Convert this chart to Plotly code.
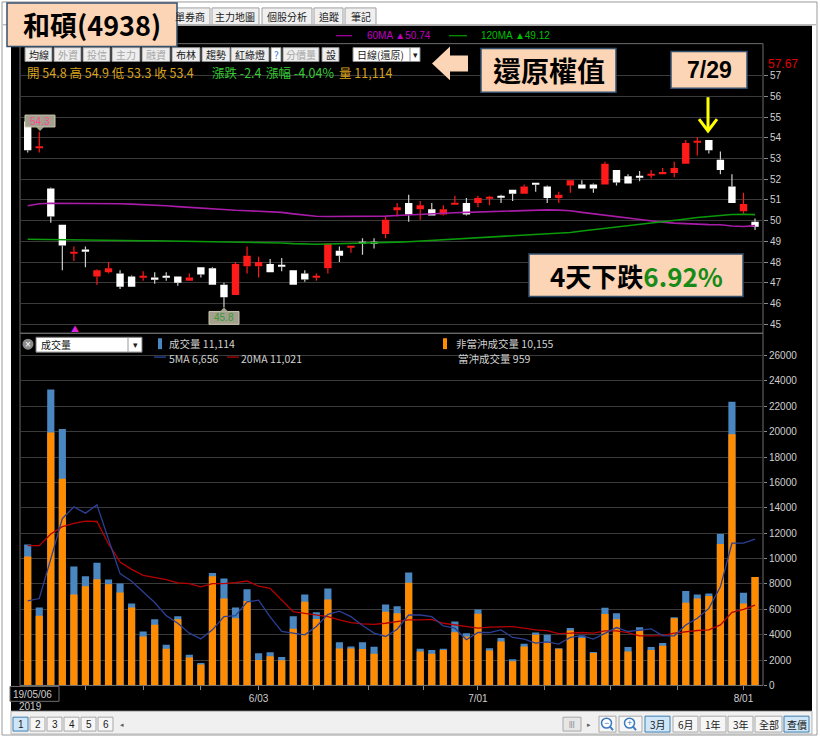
import plotly.graph_objects as go

W, H = 820, 744
CJK = "Noto Sans CJK TC"
NUM = "Liberation Sans"

# ---------------- data ----------------
dates = ["2019/05/06", "5/07", "5/08", "5/09", "5/10", "5/13", "5/14", "5/15", "5/16", "5/17",
         "5/20", "5/21", "5/22", "5/23", "5/24", "5/27", "5/28", "5/29", "5/30", "5/31",
         "6/03", "6/04", "6/05", "6/06", "6/10", "6/11", "6/12", "6/13", "6/14", "6/17",
         "6/18", "6/19", "6/20", "6/21", "6/24", "6/25", "6/26", "6/27", "6/28",
         "7/01", "7/02", "7/03", "7/04", "7/05", "7/08", "7/09", "7/10", "7/11", "7/12",
         "7/15", "7/16", "7/17", "7/18", "7/19", "7/22", "7/23", "7/24", "7/25", "7/26",
         "7/29", "7/30", "7/31", "8/01", "8/02"]

open_ = [54.8, 53.5, 51.55, 49.8, 48.4, 48.6, 47.3, 47.5, 47.45, 47.3,
         47.25, 47.25, 47.3, 47.3, 47.1, 47.75, 47.7, 46.9, 46.4, 47.8,
         47.8, 47.9, 47.85, 47.6, 47.45, 47.25, 47.7, 48.55, 48.7, 48.95,
         48.95, 49.35, 50.5, 50.85, 50.55, 50.55, 50.3, 50.83, 50.85,
         50.85, 51.1, 51.2, 51.5, 51.3, 51.8, 51.65, 51.1, 51.7, 51.75,
         51.75, 51.75, 52.45, 52.15, 52.15, 52.2, 52.25, 52.3, 52.75, 53.8,
         53.9, 52.95, 51.65, 50.45, 49.95]
high = [54.9, 54.3, 51.6, 49.8, 48.75, 48.75, 47.65, 48.0, 47.6, 47.35,
        47.55, 47.5, 47.5, 47.3, 47.45, 47.75, 47.75, 47.0, 48.0, 48.75,
        48.25, 48.15, 48.2, 47.6, 47.6, 47.45, 48.9, 48.75, 48.75, 49.15,
        49.15, 50.2, 50.85, 51.25, 50.95, 50.85, 50.75, 51.2, 51.1,
        51.2, 51.2, 51.25, 51.5, 51.75, 51.8, 51.7, 51.4, 51.95, 51.95,
        51.8, 52.85, 52.45, 52.25, 52.4, 52.45, 52.55, 52.85, 53.9, 54.05,
        53.9, 53.35, 52.25, 51.35, 50.1]
low = [53.3, 53.3, 49.9, 47.6, 48.05, 47.75, 46.9, 47.45, 46.7, 46.8,
       47.1, 46.95, 47.1, 46.85, 47.1, 47.25, 46.9, 45.8, 46.4, 47.45,
       47.25, 47.5, 47.55, 46.9, 47.05, 47.1, 47.45, 48.0, 48.45, 48.35,
       48.65, 49.15, 50.2, 49.95, 50.05, 50.25, 50.25, 50.85, 50.25,
       50.65, 50.75, 50.85, 50.95, 51.3, 51.4, 50.85, 50.85, 51.35, 51.55,
       51.35, 51.75, 51.7, 51.8, 51.9, 52.05, 52.25, 52.1, 52.75, 53.15,
       53.25, 52.25, 50.85, 50.35, 49.55]
close = [53.4, 53.6, 50.2, 48.8, 48.5, 48.5, 47.6, 47.7, 46.8, 46.8,
         47.3, 47.2, 47.25, 47.0, 47.25, 47.4, 46.9, 46.3, 47.9, 48.3,
         48.0, 47.5, 47.8, 46.9, 47.15, 47.3, 48.9, 48.3, 48.75, 48.9,
         48.9, 50.05, 50.65, 50.3, 50.75, 50.25, 50.55, 50.85, 50.3,
         51.1, 51.15, 51.15, 51.3, 51.65, 51.75, 51.1, 51.25, 51.95, 51.55,
         51.55, 52.75, 51.85, 51.8, 52.1, 52.25, 52.35, 52.55, 53.75, 53.85,
         53.4, 52.45, 50.85, 50.8, 49.7]
ma60 = [50.72, 50.82, 50.84, 50.84, 50.84, 50.84, 50.84, 50.83, 50.82, 50.80,
        50.78, 50.75, 50.72, 50.68, 50.64, 50.60, 50.56, 50.52, 50.50, 50.48,
        50.46, 50.44, 50.40, 50.33, 50.26, 50.21, 50.20, 50.20, 50.20, 50.20,
        50.20, 50.22, 50.25, 50.28, 50.32, 50.35, 50.37, 50.38, 50.40,
        50.42, 50.44, 50.46, 50.48, 50.50, 50.52, 50.52, 50.51, 50.48, 50.40,
        50.33, 50.27, 50.20, 50.12, 50.04, 49.98, 49.92, 49.88, 49.85, 49.83,
        49.81, 49.80, 49.74, 49.72, 49.76]
ma120 = [49.10, 49.09, 49.09, 49.08, 49.08, 49.08, 49.07, 49.06, 49.05, 49.04,
         49.03, 49.03, 49.02, 49.02, 49.01, 49.00, 49.00, 48.99, 48.99, 48.98,
         48.97, 48.95, 48.92, 48.89, 48.87, 48.86, 48.87, 48.88, 48.89, 48.90,
         48.92, 48.94, 48.96, 48.98, 49.01, 49.04, 49.07, 49.10, 49.13,
         49.16, 49.19, 49.22, 49.26, 49.30, 49.34, 49.37, 49.40, 49.43, 49.50,
         49.57, 49.64, 49.70, 49.77, 49.83, 49.89, 49.95, 50.00, 50.08, 50.15,
         50.20, 50.24, 50.30, 50.31, 50.29]
vol_total = [11114, 6150, 23320, 20220, 9380, 8600, 9670, 8340, 8030, 6460,
             4250, 5210, 3210, 5450, 2420, 1770, 8860, 8420, 6150, 7580,
             2530, 2610, 2240, 5450, 7170, 5760, 7640, 3410, 3070, 3410,
             3050, 6380, 6250, 8910, 2890, 2790, 2890, 5030, 4120,
             5990, 2940, 3730, 2060, 3280, 4170, 3990, 2940, 4530, 3930,
             2630, 6120, 5680, 3020, 4590, 3020, 3340, 5370, 7450, 7170,
             7240, 11930, 22360, 7300, 8550]
vol_nondt = [10155, 5500, 19930, 16290, 7170, 7820, 8360, 7970, 7320, 6150,
             3860, 4790, 2890, 5210, 2210, 1640, 8600, 6850, 5290, 6650,
             2010, 2290, 1980, 4460, 6590, 5240, 6780, 2920, 2920, 2870,
             2500, 5810, 5680, 8100, 2680, 2500, 2790, 4200, 3860,
             5650, 2760, 3470, 1900, 3070, 3990, 3390, 2890, 4330, 3730,
             2550, 5630, 5210, 2680, 4330, 2790, 3130, 5290, 6510, 6850,
             7040, 11150, 19800, 6460, 8550]
vol_ma5 = [6656, 6850, 9980, 13160, 14070, 13580, 14230, 11540, 8810, 8210,
           7370, 6540, 5500, 4900, 4120, 3670, 4380, 5420, 5500, 6590,
           6720, 5400, 4250, 4120, 3990, 4640, 5600, 5860, 5420, 4720,
           4120, 3860, 4430, 5550, 5550, 5420, 4690, 4510, 3600,
           4170, 4170, 4380, 3780, 3650, 3340, 3430, 3260, 3780, 3930,
           3650, 4120, 4560, 4250, 4380, 4460, 3930, 3910, 4770, 5290,
           6070, 7770, 11210, 11210, 11540]
vol_ma20 = [11021, 11020, 11930, 12510, 12770, 12950, 12920, 11150, 9720, 9150,
            8680, 8500, 8340, 8080, 8030, 7770, 8030, 8030, 8100, 8230,
            7820, 7660, 6720, 5810, 5680, 5550, 5420, 5160, 4950, 4850,
            4820, 4900, 5030, 5160, 5160, 5210, 4900, 4770, 4590,
            4510, 4590, 4640, 4640, 4510, 4380, 4320, 4090, 4120, 4170,
            4120, 4300, 4300, 4170, 3910, 3910, 3930, 4120, 4250, 4330,
            4380, 4770, 5760, 5990, 6330]

price_ticks = list(range(45, 58))
vol_ticks = list(range(0, 26001, 2000))

cursor = 0
chg_text, pct_text = "-2.4", "-4.04%"
ma60_text, ma120_text = "50.74", "49.12"
top_price_text = "57.67"
hi_tag, lo_tag = "54.3", "45.8"

# ---------------- helpers ----------------
def PX(x):
    return x / W


def PY(y):
    return 1 - y / H


shapes = []
annots = []


def rect(x0, y0, x1, y1, fill=None, line=None, lw=1, layer="above"):
    shapes.append(dict(type="rect", xref="paper", yref="paper",
                       x0=PX(x0), x1=PX(x1), y0=PY(y1), y1=PY(y0),
                       fillcolor=fill if fill else "rgba(0,0,0,0)",
                       line=dict(color=line if line else "rgba(0,0,0,0)", width=lw if line else 0),
                       layer=layer))


def seg(x0, y0, x1, y1, color, lw=1, layer="above"):
    shapes.append(dict(type="line", xref="paper", yref="paper",
                       x0=PX(x0), x1=PX(x1), y0=PY(y0), y1=PY(y1),
                       line=dict(color=color, width=lw), layer=layer))


def circ(cx, cy, r, fill=None, line=None, lw=1):
    shapes.append(dict(type="circle", xref="paper", yref="paper",
                       x0=PX(cx - r), x1=PX(cx + r), y0=PY(cy + r), y1=PY(cy - r),
                       fillcolor=fill if fill else "rgba(0,0,0,0)",
                       line=dict(color=line if line else "rgba(0,0,0,0)", width=lw if line else 0),
                       layer="above"))


def poly(pts, fill=None, line=None, lw=1, closed=True):
    d = "M " + " L ".join(f"{PX(x):.5f},{PY(y):.5f}" for x, y in pts)
    if closed:
        d += " Z"
    shapes.append(dict(type="path", xref="paper", yref="paper", path=d,
                       fillcolor=fill if fill else "rgba(0,0,0,0)",
                       line=dict(color=line if line else "rgba(0,0,0,0)", width=lw if line else 0),
                       layer="above"))


def note(x, y, text, size=11, color="#d0d0d0", xa="left", family=CJK, ya="middle"):
    annots.append(dict(x=PX(x), y=PY(y), xref="paper", yref="paper", text=text,
                       showarrow=False, xanchor=xa, yanchor=ya, borderpad=0,
                       font=dict(size=size, color=color, family=family)))


# ---------------- traces ----------------
n = len(dates)
idx = list(range(n))
up = [c > o for o, c in zip(open_, close)]
MINB = 0.06
base, hgt = [], []
for o, c in zip(open_, close):
    d = abs(c - o)
    if d < MINB:
        base.append((o + c) / 2 - MINB / 2)
        hgt.append(MINB)
    else:
        base.append(min(o, c))
        hgt.append(d)


def sel(arr, flag):
    return [a for a, u in zip(arr, up) if u == flag]


def wicks(flag):
    xs, ys = [], []
    for i in idx:
        if up[i] != flag:
            continue
        top, bot = base[i] + hgt[i], base[i]
        if high[i] > top:
            xs += [i, i, None]
            ys += [top, high[i], None]
        if low[i] < bot:
            xs += [i, i, None]
            ys += [bot, low[i], None]
    return xs, ys


fig = go.Figure()
RED = "#ff1a1a"
fig.add_trace(go.Bar(x=sel(idx, True), y=sel(hgt, True), base=sel(base, True), width=0.64,
                     marker=dict(color=RED, line=dict(width=0)), xaxis="x", yaxis="y"))
fig.add_trace(go.Bar(x=sel(idx, False), y=sel(hgt, False), base=sel(base, False), width=0.64,
                     marker=dict(color="#ffffff", line=dict(width=0)), xaxis="x", yaxis="y"))
wx, wy = wicks(True)
fig.add_trace(go.Scatter(x=wx, y=wy, mode="lines", line=dict(color=RED, width=1.2),
                         xaxis="x", yaxis="y"))
wx, wy = wicks(False)
fig.add_trace(go.Scatter(x=wx, y=wy, mode="lines", line=dict(color="#cfcfcf", width=1.2),
                         xaxis="x", yaxis="y"))
fig.add_trace(go.Scatter(x=idx, y=ma60, mode="lines", line=dict(color="#a81ca8", width=1.6),
                         xaxis="x", yaxis="y"))
fig.add_trace(go.Scatter(x=idx, y=ma120, mode="lines", line=dict(color="#0a9a0a", width=1.6),
                         xaxis="x", yaxis="y"))

fig.add_trace(go.Bar(x=idx, y=vol_total, width=0.62, marker=dict(color="#4a87c1", line=dict(width=0)),
                     xaxis="x2", yaxis="y2"))
fig.add_trace(go.Bar(x=idx, y=vol_nondt, width=0.62, marker=dict(color="#ff8c00", line=dict(width=0)),
                     xaxis="x2", yaxis="y2"))
fig.add_trace(go.Scatter(x=idx, y=vol_ma20, mode="lines", line=dict(color="#b80000", width=1.3),
                         xaxis="x2", yaxis="y2"))
fig.add_trace(go.Scatter(x=idx, y=vol_ma5, mode="lines", line=dict(color="#2b3f95", width=1.3),
                         xaxis="x2", yaxis="y2"))

# month quarter ticks on the date axis
starts = [0] + [i for i in range(1, n) if dates[i].split("/")[-2][-1] != dates[i - 1].split("/")[-2][-1]]
tickvals, ticktext = [], []
for s, e in zip(starts[:-1], starts[1:]):
    for k in range(1, 5):
        tickvals.append(s + (e - s) * k / 4)
        ticktext.append(dates[e] if k == 4 else "")

XR = [-0.667, 63.69]
GRID = "#3a3a3a"
fig.update_layout(
    width=W, height=H, autosize=False,
    margin=dict(l=0, r=0, t=0, b=0),
    paper_bgcolor="#ffffff", plot_bgcolor="#000000",
    barmode="overlay", showlegend=False, hovermode=False,
    xaxis=dict(domain=[PX(20), PX(763)], range=XR, anchor="y", showticklabels=False,
               showgrid=False, zeroline=False, ticks=""),
    yaxis=dict(domain=[PY(336), PY(44)], range=[44.554, 58.559], side="right", anchor="x",
               tickvals=price_ticks, gridcolor=GRID, gridwidth=1, zeroline=False,
               ticks="outside", ticklen=4, tickcolor="#8a8a8a",
               tickfont=dict(color="#cfcfcf", size=10, family=NUM)),
    xaxis2=dict(domain=[PX(20), PX(763)], range=XR, anchor="y2", tickvals=tickvals, ticktext=ticktext,
                showgrid=False, zeroline=False, ticks="outside", ticklen=4, tickcolor="#8a8a8a",
                showline=True, linecolor="#707070",
                tickfont=dict(color="#cfcfcf", size=10, family=NUM)),
    yaxis2=dict(domain=[PY(691), PY(336)], range=[0, 27756], side="right", anchor="x2",
                tickvals=vol_ticks, tickformat="d", gridcolor=GRID, gridwidth=1, zeroline=False,
                ticks="outside", ticklen=3, tickcolor="#8a8a8a",
                tickfont=dict(color="#cfcfcf", size=10, family=NUM)),
)

# ---------------- frame (below) ----------------
rect(2, 2, 817, 741, fill="#ffffff", line="#9a9a9a", layer="below")
seg(3, 25, 816, 25, "#a0a0a0", layer="below")
rect(11, 26, 812, 717, fill="#000000", layer="below")
rect(11, 717, 812, 740, fill="#f0f0f0", line="#b4b4b4", layer="below")
rect(20, 44, 763, 336, line="#6e6e6e", layer="below")
rect(20, 336, 763, 691, line="#6e6e6e", layer="below")

# top tabs
for lab, x0, x1 in [("單券商", 170, 210), ("主力地圖", 212, 259), ("個股分析", 262, 312),
                    ("追蹤", 314, 343), ("筆記", 345, 376)]:
    rect(x0, 8, x1, 25, fill="#f0f0f0", line="#a0a0a0", layer="below")
    note((x0 + x1) / 2, 17, lab, size=10, color="#202020", xa="center")

# title box
rect(7, 3, 177, 47, fill="#fbd5b5", line="#34506f", lw=1.5)
note(92, 25, "<b>和碩(4938)</b>", size=27, color="#000000", xa="center")

# MA legend
seg(336, 36, 352, 36, "#b000b0", lw=1.2)
note(366, 36, f"60MA ▲{ma60_text}", size=10, color="#c000c0", family=NUM)
seg(449, 36, 467, 36, "#00a000", lw=1.2)
note(480, 36, f"120MA ▲{ma120_text}", size=10, color="#00c000", family=NUM)

# toolbar
for lab, x0, x1, st in [("均線", 25, 52, 1), ("外資", 54, 81, 0), ("投信", 83, 110, 0),
                        ("主力", 112, 140, 0), ("融資", 142, 170, 0), ("布林", 172, 200, 1),
                        ("趨勢", 202, 230, 1), ("紅綠燈", 231, 269, 1), ("?", 271, 281, 2),
                        ("分價量", 283, 319, 0), ("設", 322, 339, 1)]:
    rect(x0, 48, x1, 62, fill="#ffffff" if st == 2 else "#eeeeee", line="#8c8c8c")
    col = {0: "#a6a6a6", 1: "#1a1a1a", 2: "#3a7ad8"}[st]
    note((x0 + x1) / 2, 55, lab, size=10, color=col, xa="center")
rect(353, 48, 420, 62, fill="#ffffff", line="#8c8c8c")
seg(410, 48, 410, 62, "#8c8c8c")
note(356, 55, "日線(還原)", size=10, color="#202020")
note(415, 55, "▾", size=9, color="#202020", xa="center")

# OHLC line for the cursor bar
GOLD = "#d9a21b"
note(26, 73, f"開 {open_[cursor]} 高 {high[cursor]} 低 {low[cursor]} 收 {close[cursor]}",
     size=12.5, color=GOLD)
note(211, 73, f"漲跌 {chg_text}", size=12.5, color="#35cc35")
note(265, 73, f"漲幅 {pct_text}", size=12.5, color="#35cc35")
note(338, 73, f"量 {vol_total[cursor]:,}", size=12.5, color=GOLD)

# callouts
poly([(432, 64), (450, 47), (450, 56), (468, 56), (468, 72), (450, 72), (450, 81)], fill="#fbd5b5")
rect(481, 49, 616, 93, fill="#fbd5b5", line="#34506f", lw=1.5)
note(548.5, 71, "<b>還原權值</b>", size=28, color="#000000", xa="center")
rect(671, 52, 747, 89, fill="#fbd5b5", line="#34506f", lw=1.5)
note(709, 70.5, "<b>7/29</b>", size=23, color="#000000", xa="center", family=NUM)
poly([(708, 98), (708, 131)], line="#ffff00", lw=3, closed=False)
poly([(699, 120), (708, 132), (717, 120)], line="#ffff00", lw=3, closed=False)
rect(529, 256, 743, 299, fill="#fbd5b5", line="#34506f", lw=1.5)
note(636, 277.5, "<b>4天下跌<span style='color:#178a17'>6.92%</span></b>", size=26,
     color="#000000", xa="center")

note(767, 65, top_price_text, size=12, color="#e00000", family=NUM)

# hi / lo tags
rect(25, 116, 55, 128, fill="#a3a08c", line="#c8c6b4")
poly([(36, 128), (44, 128), (40, 132)], fill="#a3a08c")
note(40, 122, hi_tag, size=10, color="#ff4a9a", xa="center", family=NUM)
rect(209, 314, 239, 327, fill="#a3a08c", line="#c8c6b4")
poly([(220, 314), (228, 314), (224, 310)], fill="#a3a08c")
note(224, 320.5, lo_tag, size=10, color="#3a9a3a", xa="center", family=NUM)
note(75, 331, "▲", size=8, color="#e020e0", xa="center")

# volume legend
circ(28, 347, 5.5, fill="#8a8a8a")
note(28, 347, "×", size=10, color="#ffffff", xa="center", family=NUM)
rect(36, 340, 142, 355, fill="#ffffff", line="#7a7a7a")
seg(128, 340, 128, 355, "#9a9a9a")
note(40, 347.5, "成交量", size=10, color="#101010")
note(135, 347.5, "▾", size=9, color="#202020", xa="center")
rect(158, 341, 162, 352, fill="#4a87c1")
note(168, 346, f"成交量 {vol_total[cursor]:,}", size=10.5)
seg(154, 360, 166, 360, "#2b4fb0", lw=1.2)
note(168, 361, f"5MA {vol_ma5[cursor]:,}", size=10.5)
seg(227, 360, 239, 360, "#c00000", lw=1.2)
note(240, 361, f"20MA {vol_ma20[cursor]:,}", size=10.5)
rect(443, 341, 447, 352, fill="#ff8c00")
note(455, 346, f"非當沖成交量 {vol_nondt[cursor]:,}", size=10.5)
note(457, 361, f"當沖成交量 {vol_total[cursor] - vol_nondt[cursor]:,}", size=10.5)

# first date box
rect(10, 692, 59, 707, fill="#000000", line="#707070")
note(12, 700, dates[0][2:], size=10, color="#cfcfcf", family=NUM)
note(18, 712, dates[0][:4], size=10, color="#cfcfcf", family=NUM)

# bottom bar
for k, x0 in enumerate([13, 30, 47, 64, 81, 98]):
    selb = k == 0
    rect(x0, 723, x0 + 15, 737, fill="#cfe6f8" if selb else "#f6f6f6",
         line="#3c7fb1" if selb else "#a8a8a8")
    note(x0 + 7.5, 730, str(k + 1), size=10, color="#1a1a1a", xa="center", family=NUM)
note(122, 730, "◂", size=7, color="#606060", xa="center")
rect(563, 723, 581, 737, fill="#e6e6e6", line="#a8a8a8")
note(572, 730, "|||", size=7, color="#707070", xa="center", family=NUM)
note(589, 730, "▸", size=7, color="#606060", xa="center")
for x0, x1, sign in [(599, 616, "−"), (619, 642, "+")]:
    rect(x0, 722, x1, 738, fill="#f6f6f6", line="#a8a8a8")
    cx = (x0 + x1) / 2
    circ(cx - 1, 729, 5, fill="#ffffff", line="#3a7ac0", lw=1.5)
    seg(cx + 2.5, 732.5, cx + 5.5, 736, "#3a7ac0", lw=2)
    note(cx - 1, 729, sign, size=9, color="#3a7ac0", xa="center", family=NUM)
for lab, x0, x1, selb in [("3月", 645, 670, True), ("6月", 673, 698, False), ("1年", 700, 726, False),
                          ("3年", 728, 753, False), ("全部", 755, 782, False), ("查價", 784, 809, True)]:
    rect(x0, 722, x1, 738, fill="#cfe6f8" if selb else "#f6f6f6",
         line="#3c7fb1" if selb else "#a8a8a8")
    note((x0 + x1) / 2, 730, lab, size=10, color="#1a1a1a", xa="center")

fig.update_layout(shapes=shapes, annotations=annots)
page_css = ("var s='margin:0;padding:0;overflow:hidden;width:820px;height:744px;';"
            "document.documentElement.style.cssText=s;document.body.style.cssText=s;")
fig.write_html("out.html",
               config={"displayModeBar": False, "responsive": False},
               post_script=page_css)
